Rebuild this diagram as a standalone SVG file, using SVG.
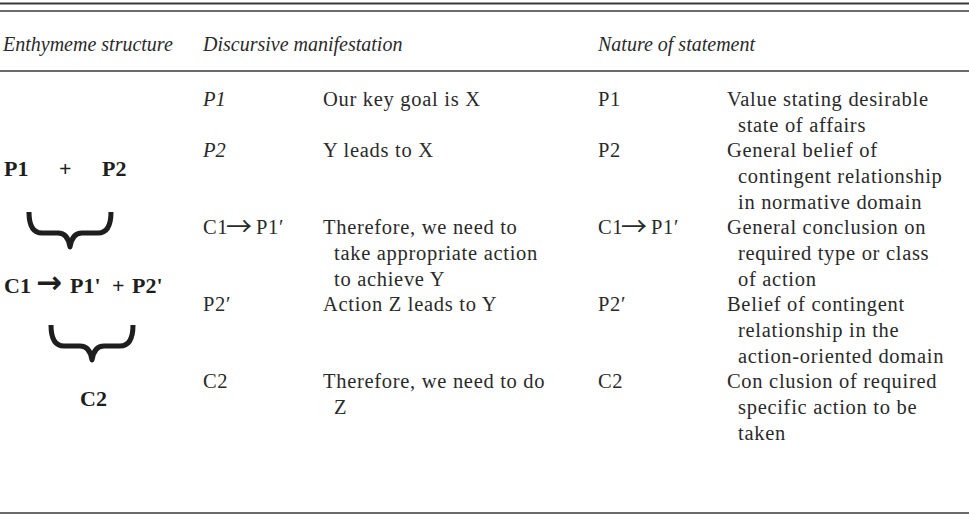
<svg xmlns="http://www.w3.org/2000/svg" width="969" height="516" viewBox="0 0 969 516">
<style>
  .rule { stroke: #3a3a3a; fill: none; }
  .hd { font-family: "Liberation Serif", "Times New Roman", serif; font-style: italic; font-size: 20px; fill: #2a2a2a; }
  .it { font-family: "Liberation Serif", "Times New Roman", serif; font-style: italic; font-size: 20.5px; fill: #2a2a2a; }
  .tx { font-family: "Liberation Serif", "Times New Roman", serif; font-size: 20.5px; letter-spacing: 0.7px; fill: #2a2a2a; }
  .bd { font-family: "Liberation Serif", "Times New Roman", serif; font-weight: bold; font-size: 22px; fill: #1e1e1e; }
  .ar { font-family: "Noto Sans CJK JP", "DejaVu Sans", sans-serif; font-size: 26px; letter-spacing: 0; }
  .arb { font-family: "DejaVu Sans", sans-serif; font-weight: bold; font-size: 31px; }
  .brace { stroke: #1e1e1e; stroke-width: 5; fill: none; stroke-linejoin: round; }
</style>
<rect width="969" height="516" fill="#ffffff"/>
<g id="rules">
  <line class="rule" x1="0" y1="3.5" x2="969" y2="3.5" stroke-width="2.2" stroke="#555"/>
  <line class="rule" x1="0" y1="11" x2="969" y2="11" stroke-width="1.5"/>
  <line class="rule" x1="0" y1="71" x2="969" y2="71" stroke-width="1.5"/>
  <line class="rule" x1="0" y1="513" x2="969" y2="513" stroke-width="1.5"/>
</g>
<g id="header">
  <text class="hd" x="3" y="51">Enthymeme structure</text>
  <text class="hd" x="203" y="51">Discursive manifestation</text>
  <text class="hd" x="598" y="51">Nature of statement</text>
</g>
<g id="structure">
  <g id="node-p1p2">
    <text class="bd" x="4" y="176">P1</text>
    <text class="bd" x="59" y="176">+</text>
    <text class="bd" x="102" y="176">P2</text>
  </g>
  <g id="node-c1">
    <text class="bd" y="293"><tspan x="4">C1</tspan><tspan class="arb" x="36">→</tspan><tspan x="70">P1'</tspan><tspan x="112">+</tspan><tspan x="132">P2'</tspan></text>
  </g>
  <g id="node-c2">
    <text class="bd" x="80" y="406">C2</text>
  </g>
</g>
<g id="connectors">
  <path class="brace" d="M29,212 Q29,233 42,233 L58,233 Q68,233 70,247 Q72,233 82,233 L98,233 Q111,233 111,212"/>
  <path class="brace" d="M51,325 Q51,346 64,346 L80,346 Q90,346 92,360 Q94,346 104,346 L120,346 Q133,346 133,325"/>
</g>
<g id="row-p1">
  <text class="it" x="203" y="106">P1</text>
  <text class="tx" x="323" y="106">Our key goal is X</text>
  <text class="tx" x="598" y="106">P1</text>
  <text class="tx" x="727" y="106">Value stating desirable</text>
  <text class="tx" x="738" y="131.7">state of affairs</text>
</g>
<g id="row-p2">
  <text class="it" x="203" y="157.3">P2</text>
  <text class="tx" x="323" y="157.3">Y leads to X</text>
  <text class="tx" x="598" y="157.3">P2</text>
  <text class="tx" x="727" y="157.3">General belief of</text>
  <text class="tx" x="738" y="183">contingent relationship</text>
  <text class="tx" x="738" y="208.6">in normative domain</text>
</g>
<g id="row-c1">
  <text class="tx"><tspan x="203" y="234.3">C1</tspan><tspan class="ar" x="226" y="236.3">→</tspan><tspan x="256" y="234.3">P1′</tspan></text>
  <text class="tx" x="323" y="234.3">Therefore, we need to</text>
  <text class="tx" x="334" y="259.9">take appropriate action</text>
  <text class="tx" x="334" y="285.6">to achieve Y</text>
  <text class="tx"><tspan x="598" y="234.3">C1</tspan><tspan class="ar" x="621" y="236.3">→</tspan><tspan x="651" y="234.3">P1′</tspan></text>
  <text class="tx" x="727" y="234.3">General conclusion on</text>
  <text class="tx" x="738" y="259.9">required type or class</text>
  <text class="tx" x="738" y="285.6">of action</text>
</g>
<g id="row-p2prime">
  <text class="tx" x="203" y="311.2">P2′</text>
  <text class="tx" x="323" y="311.2">Action Z leads to Y</text>
  <text class="tx" x="598" y="311.2">P2′</text>
  <text class="tx" x="727" y="311.2">Belief of contingent</text>
  <text class="tx" x="738" y="336.9">relationship in the</text>
  <text class="tx" x="738" y="362.5">action-oriented domain</text>
</g>
<g id="row-c2">
  <text class="tx" x="203" y="388.2">C2</text>
  <text class="tx" x="323" y="388.2">Therefore, we need to do</text>
  <text class="tx" x="334" y="413.8">Z</text>
  <text class="tx" x="598" y="388.2">C2</text>
  <text class="tx" x="727" y="388.2">Con clusion of required</text>
  <text class="tx" x="738" y="413.8">specific action to be</text>
  <text class="tx" x="738" y="439.5">taken</text>
</g>
</svg>
